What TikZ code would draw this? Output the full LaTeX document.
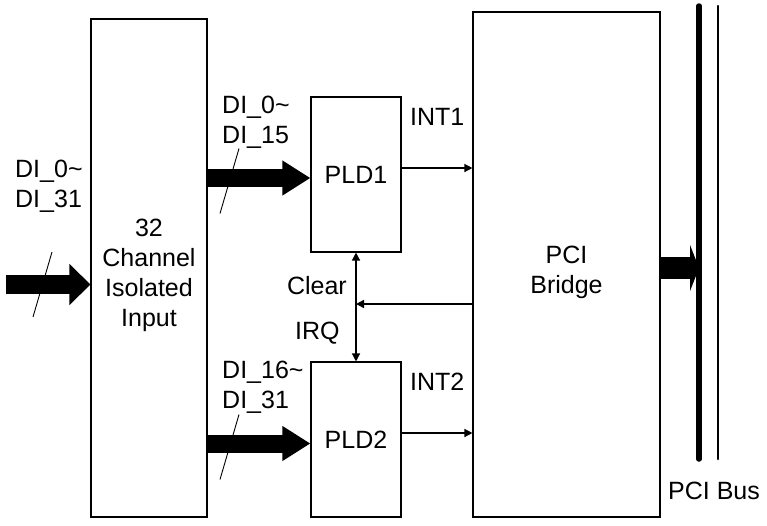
\documentclass[tikz,border=0pt]{standalone}
\usepackage{fontspec}
\setmainfont{Liberation Sans}
\usetikzlibrary{arrows.meta}
\tikzset{
  blk/.style={draw, line width=1.1pt, inner sep=0pt, align=center, font=\fontsize{25}{30}\selectfont},
  txt/.style={inner sep=0pt, align=left, font=\fontsize{25}{30}\selectfont},
  sig/.style={line width=1.3pt, -{Triangle[length=8pt,width=8pt]}},
  fat/.style={line width=18pt, -{Triangle[length=28pt,width=33pt]}},
}
\begin{document}
\begin{tikzpicture}[x=1pt,y=-1pt]
\useasboundingbox (0,0) rectangle (767,525);
% the blocks
\node[blk, minimum width=116pt, minimum height=498pt] (iso) at (149,268) {};
\node[blk, minimum width=90pt, minimum height=155pt] (pld1) at (356,174.5) {PLD1};
\node[blk, minimum width=90pt, minimum height=155pt] (pld2) at (356,439.5) {PLD2};
\node[blk, minimum width=187pt, minimum height=505pt] (bridge) at (566.5,264.5) {};
\node[txt, align=center] (isotxt) at ([yshift=-7pt]iso.center) {32\\Channel\\Isolated\\Input};
\node[txt, align=center] (brtxt) at ([yshift=-8pt]bridge.center) {PCI\\Bridge};
% labels
\node[txt, anchor=west] (inlbl) at (15,186) {DI\_0\textasciitilde\\DI\_31};
\node[txt, anchor=west] (lbl1) at (222,122) {DI\_0\textasciitilde\\DI\_15};
\node[txt, anchor=west] (lbl2) at (222,387) {DI\_16\textasciitilde\\DI\_31};
\node[txt, anchor=west] (int1) at (410,116.5) {INT1};
\node[txt, anchor=west] (int2) at (410,381.5) {INT2};
\node[txt, anchor=east] (clrlbl) at (347,286) {Clear};
\node[txt, anchor=west] (irq) at (295,333) {IRQ};
\node[txt, anchor=west] (buslbl) at (668,491) {PCI Bus};
% wide data paths
\coordinate (in) at (6,284.5);
\draw[fat, line width=19pt, -{Triangle[length=21pt,width=40pt]}] (in) -- (iso.west |- in);
\coordinate (p1) at ([yshift=-3.5pt]pld1.west);
\draw[fat] (p1 -| iso.east) -- (p1);
\coordinate (p2) at ([yshift=-4pt]pld2.west);
\draw[fat] (p2 -| iso.east) -- (p2);
\coordinate (busin) at (699,268);
\draw[fat, line width=22pt, -{Triangle[length=9pt,width=46pt]}] (bridge.east |- busin) -- (busin);
\foreach \p in {(42.5,284.5),(229.5,181),(229.5,447)} % the bus slashes
\draw[shift={\p}, line width=0.9pt] (-9.5,32.5) -- (9.5,-32.5);
% PCI bus
\coordinate (bustop) at (699,6);
\coordinate (busbot) at (699,459);
\draw[line width=5.5pt, line cap=round] (bustop) -- (busbot);
\draw[line width=2.5pt, line cap=round] (bustop -| 718,0) -- (busbot -| 718,0);
% interrupt signals
\coordinate (s1) at ([yshift=6.5pt]pld1.east);
\draw[sig] (s1) -- (s1 -| bridge.west);
\coordinate (s2) at ([yshift=6.5pt]pld2.east);
\draw[sig] (s2) -- (s2 -| bridge.west);
\draw[sig, {Triangle[length=8pt,width=8pt]}-{Triangle[length=8pt,width=8pt]}] (pld1.south) -- (pld2.north);
\coordinate (clr) at (356,304);
\draw[sig] (clr -| bridge.west) -- (clr);
\end{tikzpicture}
\end{document}
